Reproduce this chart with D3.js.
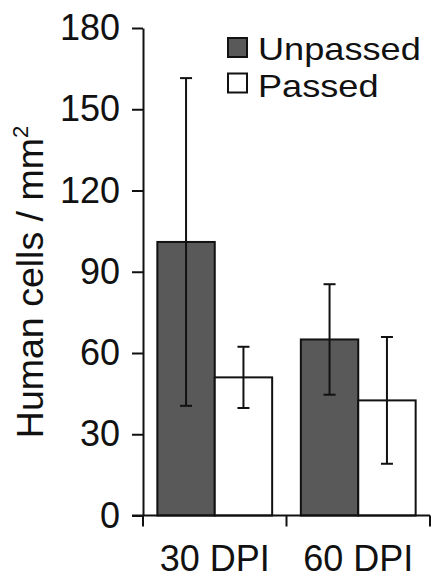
<meta charset="utf-8">
<title>Human cells per mm2</title>
<script src="https://d3js.org/d3.v7.min.js"></script>
<style>
  body { margin: 0; background: #fff; }
  text { font-family: "Liberation Sans", Arial, sans-serif; fill: #111; }
</style>
<body>
<svg width="434" height="583"></svg>
<script>

  // data
  const groups = ['30 DPI', '60 DPI'],
        series = ['Unpassed', 'Passed'],
        means = [[101, 51], [65, 42.5]],
        errs = [[60.5, 11.3], [20.4, 23.4]],
        yTicks = [0, 30, 60, 90, 120, 150, 180],
        fills = ['#595959', '#fff']

  const svg = d3.select('svg'),
        axisX = 143, baseY = 515.5, topY = 28, rightX = 430

  const y = d3.scaleLinear().domain([0, 180]).range([baseY, topY])

  const x0 = d3.scaleBand().domain(groups).range([axisX, rightX])

  const x1 = d3.scaleBand().domain(series)
    .range([0, x0.bandwidth()])
    .paddingOuter(0.25)

  // bars
  const g = svg.selectAll('g.grp')
    .data(groups)
    .join('g')
    .attr('class', 'grp')
    .attr('transform', d => `translate(${x0(d)},0)`)

  g.selectAll('rect')
    .data((d, i) => series.map((s, j) => ({ s, v: means[i][j], j })))
    .join('rect')
    .attr('x', d => x1(d.s))
    .attr('y', d => y(d.v))
    .attr('width', x1.bandwidth())
    .attr('height', d => baseY - y(d.v))
    .attr('fill', d => fills[d.j])
    .attr('stroke', '#111')
    .attr('stroke-width', 2)

  // error bars
  const eb = g.selectAll('g.err')
    .data((d, i) => series.map((s, j) => ({ s, v: means[i][j], e: errs[i][j] })))
    .join('g')
    .attr('class', 'err')
    .attr('transform', d => `translate(${x1(d.s) + x1.bandwidth() / 2},0)`)
    .attr('stroke', '#111')
    .attr('stroke-width', 2)

  eb.append('line')
    .attr('y1', d => y(d.v - d.e))
    .attr('y2', d => y(d.v + d.e))
  eb.append('line')
    .attr('x1', -6).attr('x2', 6)
    .attr('y1', d => y(d.v + d.e)).attr('y2', d => y(d.v + d.e))
  eb.append('line')
    .attr('x1', -6).attr('x2', 6)
    .attr('y1', d => y(d.v - d.e)).attr('y2', d => y(d.v - d.e))

  // y axis
  const yAxis = svg.append('g')
    .attr('transform', `translate(${axisX},0)`)
    .call(d3.axisLeft(y).tickValues(yTicks).tickSize(11).tickPadding(12).tickSizeOuter(0))
  yAxis.select('.domain').attr('stroke', '#111').attr('stroke-width', 2)
  yAxis.selectAll('.tick line').attr('stroke', '#111').attr('stroke-width', 2)
  yAxis.selectAll('.tick text')
    .style('font-size', '36px')
    .style('font-family', '"Liberation Sans", Arial, sans-serif')
    .attr('fill', '#111')

  // x axis: baseline with ticks at band edges
  const edges = groups.map(d => x0(d)).concat([rightX])
  svg.append('line')
    .attr('x1', axisX - 11).attr('x2', rightX)
    .attr('y1', baseY).attr('y2', baseY)
    .attr('stroke', '#111').attr('stroke-width', 2)
  svg.selectAll('line.xt')
    .data(edges)
    .join('line')
    .attr('class', 'xt')
    .attr('x1', d => d).attr('x2', d => d)
    .attr('y1', baseY).attr('y2', baseY + 11)
    .attr('stroke', '#111').attr('stroke-width', 2)

  svg.selectAll('text.xl')
    .data(groups)
    .join('text')
    .attr('class', 'xl')
    .attr('x', d => x0(d) + x0.bandwidth() / 2)
    .attr('y', 571)
    .attr('text-anchor', 'middle')
    .style('font-size', '36px')
    .text(d => d)

  // y label
  const yl = svg.append('text')
    .attr('transform', 'translate(43,282) rotate(-90)')
    .attr('text-anchor', 'middle')
    .style('font-size', '37.5px')
  yl.append('tspan').text('Human cells / mm')
  yl.append('tspan').attr('dy', -15).style('font-size', '22px').text('2')

  // legend
  const legX = 228, legY = 38, legStep = 35.5, textStep = 37.5

  svg.selectAll('rect.sw')
    .data(series)
    .join('rect')
    .attr('class', 'sw')
    .attr('x', legX)
    .attr('y', (d, i) => legY + i * legStep)
    .attr('width', 19).attr('height', 19)
    .attr('fill', (d, i) => fills[i])
    .attr('stroke', '#111').attr('stroke-width', 2)

  // lines sit tight in the original, so the type is a bit smaller and widened
  svg.append('g')
    .attr('transform', `translate(${legX + 30},0) scale(1.13,1)`)
    .selectAll('text')
    .data(series)
    .join('text')
    .attr('y', (d, i) => legY + 22 + i * textStep)
    .style('font-size', '32px')
    .text(d => d)

</script>
</body>
